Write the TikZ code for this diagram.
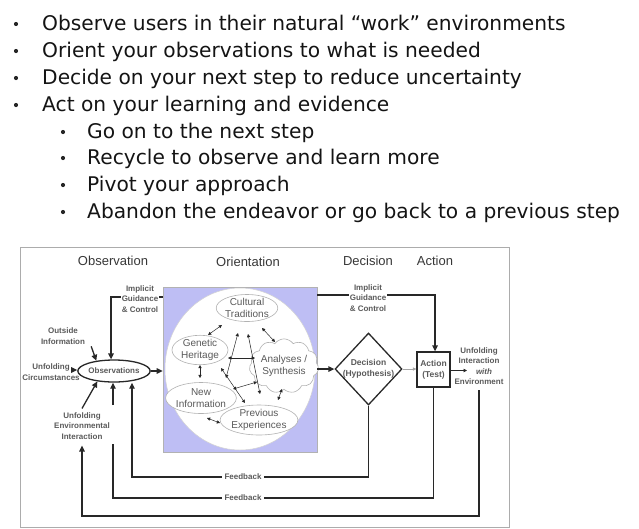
\documentclass[tikz,border=0pt]{standalone}
\usepackage{fontspec}
\setmainfont{Liberation Sans}
\newfontfamily\bulletfont{DejaVu Sans}
\usetikzlibrary{shapes.geometric,shapes.symbols,arrows.meta}
\definecolor{lav}{RGB}{190,190,244}
\definecolor{txtc}{RGB}{90,90,90}
\definecolor{hdrc}{RGB}{55,55,55}
\definecolor{lnc}{RGB}{40,40,40}
\begin{document}
\begin{tikzpicture}[x=1pt,y=-1pt,
  bul/.style={font=\bulletfont\fontsize{20.2}{24}\selectfont, text=black!92, anchor=base west, inner sep=0pt},
  dotb/.style={circle, fill=black!85, inner sep=0pt, minimum size=4.2pt},
  hdr/.style={font=\fontsize{13}{15}\selectfont, text=hdrc, inner sep=0pt},
  lbl/.style={font=\fontsize{8}{10.4}\selectfont\bfseries, text=txtc, align=center, inner sep=1pt},
  lblw/.style={lbl, fill=white},
  inr/.style={ellipse, draw=gray!60, fill=white, line width=0.6pt, font=\fontsize{10}{11.5}\selectfont, text=txtc, align=center, inner sep=0pt},
  conn/.style={lnc, line width=1.3pt, -{Triangle[length=6pt,width=5.5pt]}},
  plain/.style={lnc, line width=1.3pt},
  dbl/.style={lnc, line width=0.5pt, {Triangle[length=3.2pt,width=3.2pt]}-{Triangle[length=3.2pt,width=3.2pt]}},
  thin/.style={gray!70, line width=0.6pt, -{Triangle[length=3.5pt,width=3.2pt]}}
]
\useasboundingbox (0,0) rectangle (639,528);

% ---------- bullet list ----------
\node[dotb] (d1) at (16,24) {};
\node[bul] (b1) at (42,30) {Observe users in their natural “work” environments};
\node[dotb] (d2) at (16,51) {};
\node[bul] (b2) at (42,57) {Orient your observations to what is needed};
\node[dotb] (d3) at (16,78) {};
\node[bul] (b3) at (42,84) {Decide on your next step to reduce uncertainty};
\node[dotb] (d4) at (16,105) {};
\node[bul] (b4) at (42,111) {Act on your learning and evidence};
\node[dotb] (d5) at (63,132) {};
\node[bul] (b5) at (87,138) {Go on to the next step};
\node[dotb] (d6) at (63,158) {};
\node[bul] (b6) at (87,164) {Recycle to observe and learn more};
\node[dotb] (d7) at (63,185) {};
\node[bul] (b7) at (87,191) {Pivot your approach};
\node[dotb] (d8) at (63,212) {};
\node[bul] (b8) at (87,218) {Abandon the endeavor or go back to a previous step};

% ---------- frame ----------
\node[draw=gray!65, line width=0.8pt, minimum width=489pt, minimum height=280pt, inner sep=0pt] (frame) at (264.5,387) {};

% ---------- headers ----------
\node[hdr] (hobs) at (113,261) {Observation};
\node[hdr] (hori) at (248,262) {Orientation};
\node[hdr] (hdec) at (368,261) {Decision};
\node[hdr] (hact) at (435,261) {Action};

% ---------- orientation block ----------
\node[draw=gray!60, fill=lav, line width=0.6pt, minimum width=154pt, minimum height=165pt, inner sep=0pt] (orient) at (240,369.5) {};
\node[ellipse, fill=white, draw=gray!35, line width=0.5pt, minimum width=150pt, minimum height=162pt, inner sep=0pt] (circ) at (240,369) {};

\node[inr, minimum width=56pt, minimum height=27pt] (ct) at (247,308) {Cultural\\Traditions};
\node[inr, minimum width=56pt, minimum height=26pt] (gh) at (200,350) {Genetic\\Heritage};
\node[cloud, cloud puffs=11, cloud puff arc=110, aspect=1.4, draw=gray!60, fill=white, line width=0.6pt, font=\fontsize{10}{11.5}\selectfont, text=txtc, align=center, inner sep=0pt, minimum width=60pt, minimum height=44pt] (as) at (284,366) {Analyses /\\Synthesis};
\node[inr, minimum width=58pt, minimum height=31pt] (ni) at (201,398) {New\\Information};
\node[inr, minimum width=68pt, minimum height=30pt] (pe) at (259,420) {Previous\\Experiences};

% inner double arrows (free ends as named coordinates)
\coordinate (i1a) at (222,325); \coordinate (i1b) at (208,335);
\coordinate (i2a) at (262,328); \coordinate (i2b) at (275,342);
\coordinate (i3a) at (228,358); \coordinate (i3b) at (255,358);
\coordinate (i4a) at (200,365); \coordinate (i4b) at (200,378);
\coordinate (i5a) at (238,333); \coordinate (i5b) at (226,378);
\coordinate (i6a) at (248,334); \coordinate (i6b) at (260,394);
\coordinate (i7a) at (221,368); \coordinate (i7b) at (245,403);
\coordinate (i8a) at (233,389); \coordinate (i8b) at (257,382);
\coordinate (i9a) at (282,389); \coordinate (i9b) at (278,400);
\coordinate (i10a) at (207,418); \coordinate (i10b) at (220,423);
\foreach \k in {1,...,10} {\draw[dbl] (i\k a) -- (i\k b);}

% ---------- observation side ----------
\node[ellipse, draw=lnc, line width=1.3pt, minimum width=58pt, minimum height=22pt, inner sep=0pt, font=\fontsize{8}{10}\selectfont\bfseries, text=txtc] (obs) at (114,371) {Observations};

\coordinate (igL) at (111,297);
\draw[conn] (orient.west |- igL) -- (igL) -- (igL |- obs.north);
\node[lblw] (igl) at (140,299) {Implicit\\Guidance\\\& Control};

\node[lbl] (oi) at (63,336) {Outside\\Information};
\draw[conn] ([xshift=5pt,yshift=-1pt]oi.south east) -- (obs.150);

\node[lbl] (uc) at (51,372) {Unfolding\\Circumstances};
\coordinate (ucA) at (73,370);
\draw[conn] (ucA) -- (obs.west |- ucA);

\node[lbl] (uei) at (82,426) {Unfolding\\Environmental\\Interaction};
\draw[conn] ([yshift=3pt]uei.north) -- (obs.212);

\draw[conn] (obs.east) -- (orient.west |- obs.east);

% ---------- decision / action ----------
\node[diamond, draw=lnc, line width=1.3pt, minimum width=67pt, minimum height=72pt, inner sep=0pt] (dec) at (368.5,369) {};
\node[lbl, font=\fontsize{8.5}{11}\selectfont\bfseries] (dect) at (dec) {Decision\\(Hypothesis)};
\node[draw=lnc, line width=1.3pt, minimum width=33pt, minimum height=35pt, inner sep=0pt, lbl, font=\fontsize{8.5}{11}\selectfont\bfseries] (act) at (433.5,369.5) {Action\\(Test)};

\draw[conn] (orient.east |- dec.west) -- (dec.west);
\draw[thin] (dec.east) -- (act.west |- dec.east);

\coordinate (igR) at (435,295);
\draw[conn] (orient.east |- igR) -- (igR) -- (igR |- act.north);
\node[lblw] (igr) at (368,298) {Implicit\\Guidance\\\& Control};

\node[lbl] (uiwe) at (479,366) {Unfolding\\Interaction\\\hspace*{10pt}\textit{with}\\Environment};
\coordinate (uiA) at (467,370.5);
\draw[lnc, line width=0.8pt, -{Triangle[length=3.5pt,width=3.5pt]}] (act.east |- uiA) -- (uiA);

% ---------- feedback loops ----------
\coordinate (fb1) at (132,477);
\draw[conn] (dec.south) |- (fb1) -- (fb1 |- obs.south);
\node[lblw] (fbl1) at (243,477) {\,Feedback\,};

\coordinate (fb2) at (113,498);
\coordinate (fb2e) at (113,444);
\draw[plain] (act.south) |- (fb2) -- (fb2e);
\node[lblw] (fbl2) at (243,498) {\,Feedback\,};
\coordinate (fb2s) at (113,405);
\draw[conn] (fb2s) -- (fb2s |- obs.south);

\coordinate (envT) at (479,390);
\coordinate (envB) at (479,516);
\draw[conn] (envT) -- (envB) -| ([yshift=-5pt]uei.south);
\end{tikzpicture}
\end{document}
